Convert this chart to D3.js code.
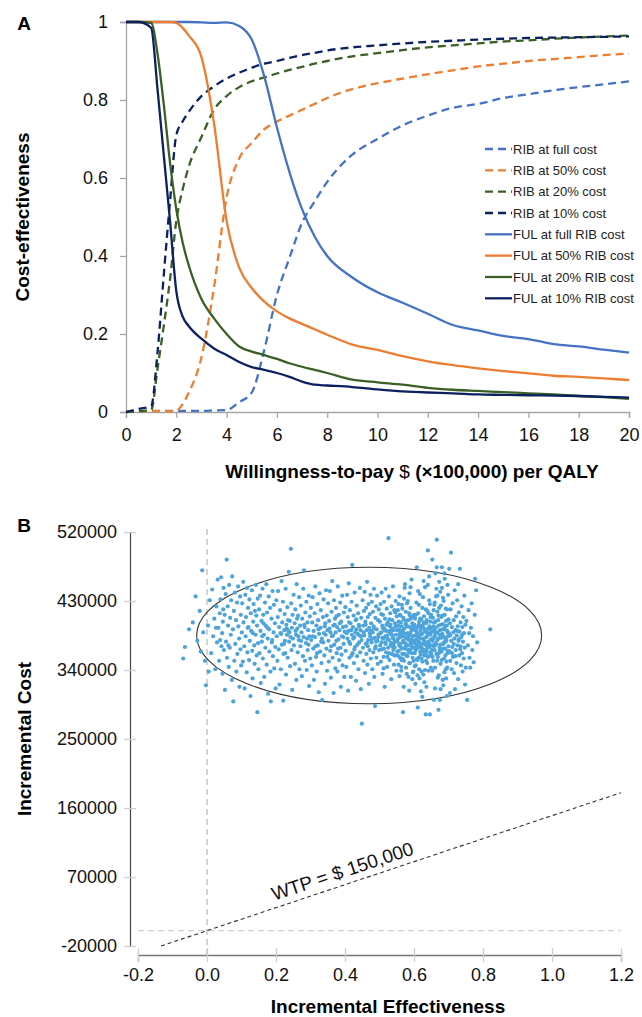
<!DOCTYPE html>
<html>
<head>
<meta charset="utf-8">
<script src="https://cdn.jsdelivr.net/npm/d3@7"></script>
<style>
  body { margin: 0; background: #fff; }
  svg { display: block; font-family: "Liberation Sans", Arial, sans-serif; }
</style>
</head>
<body>
<svg id="chart" width="642" height="1017"></svg>
<script>
// ---- Panel A: cost-effectiveness acceptability curves ----
const wtp = [0, 0.5, 1, 1.25, 1.5, 1.75, 2, 2.25, 2.5, 3, 3.5, 4, 4.5, 5, 5.5, 6, 6.5, 7, 7.5, 8,
  9, 10, 11, 12, 13, 14, 15, 16, 17, 18, 19, 20];
const ribFull = [0, .002, .003, .003, .003, .003, .003, .003, .003, .003, .004, .005, .025, .05, .16, .30,
  .395, .485, .54, .59, .66, .70, .735, .76, .78, .79, .805, .815, .825, .833, .84, .848];
const rib50 = [0, .002, .002, .002, .002, .002, .003, .02, .05, .14, .32, .55, .65, .69, .725, .745,
  .76, .775, .79, .805, .828, .843, .855, .866, .876, .886, .893, .9, .905, .91, .915, .919];
const rib20 = [0, .002, .005, .11, .22, .34, .49, .57, .63, .705, .775, .81, .833, .848, .858, .868,
  .877, .885, .893, .9, .912, .92, .928, .935, .94, .945, .95, .953, .957, .96, .963, .965];
const rib10 = [0, .008, .015, .15, .35, .54, .71, .745, .77, .81, .835, .855, .87, .883, .893, .9,
  .908, .915, .921, .927, .935, .94, .945, .949, .952, .955, .957, .959, .96, .961, .962, .963];
const fulFull = [1, 1, 1, 1, 1, 1, 1, 1, 1, .999, .998, .999, .99, .955, .86, .73,
  .615, .52, .45, .40, .345, .307, .28, .252, .223, .209, .195, .187, .174, .168, .16, .152];
const ful50 = [1, 1, 1, 1, 1, 1, .998, .985, .965, .91, .74, .49, .37, .318, .283, .258,
  .24, .226, .212, .198, .173, .159, .143, .13, .12, .112, .105, .099, .093, .09, .086, .082];
const ful20 = [1, 1, .998, .92, .79, .64, .52, .435, .375, .29, .24, .2, .168, .155, .146, .136,
  .125, .116, .108, .1, .083, .076, .07, .062, .057, .054, .051, .048, .045, .041, .038, .034];
const ful10 = [1, 1, .985, .83, .66, .49, .31, .245, .22, .188, .163, .146, .128, .115, .108, .1,
  .09, .078, .07, .068, .064, .058, .053, .05, .048, .045, .044, .043, .042, .041, .039, .037];

const seriesNames = ["RIB at full cost", "RIB at 50% cost", "RIB at 20% cost", "RIB at 10% cost",
  "FUL at full RIB cost", "FUL at 50% RIB cost", "FUL at 20% RIB cost", "FUL at 10% RIB cost"];
const seriesValues = [ribFull, rib50, rib20, rib10, fulFull, ful50, ful20, ful10];
const seriesColors = ["#4472C4", "#ED7D31", "#3B6026", "#0C2160", "#4472C4", "#ED7D31", "#3B6026", "#0C2160"];
const seriesDashed = [true, true, true, true, false, false, false, false];
const probTicks = [0, 0.2, 0.4, 0.6, 0.8, 1];
const wtpTicks = [0, 2, 4, 6, 8, 10, 12, 14, 16, 18, 20];

// ---- Panel B: incremental cost-effectiveness plane (cost in $1000s) ----
const ceDraws = [
  [-0.069,355],[-0.064,370],[-0.052,393],[-0.041,402],[-0.028,378],[-0.021,417],[-0.014,470],[-0.006,352],[-0.003,320],[-0.011,389],[-0.033,436],[-0.018,364],
  [0.003,398],[0.008,431],[0.012,362],[0.015,445],[0.018,384],[0.021,407],[0.024,341],[0.027,423],[0.029,376],[0.031,458],[0.033,395],[0.035,352],[0.037,414],[0.039,432],[0.041,461],[0.042,371],[0.044,388],[0.045,335],[0.046,403],[0.047,419],[0.048,447],[0.049,366],[0.005,338],[0.026,395],[0.038,379],
  [0.051,412],[0.052,314],[0.054,439],[0.055,377],[0.057,484],[0.058,356],[0.06,423],[0.061,398],[0.063,344],[0.064,451],[0.066,369],[0.067,408],[0.069,386],[0.07,431],[0.072,327],[0.073,462],[0.075,393],[0.076,299],[0.078,417],[0.079,352],[0.081,441],[0.082,374],[0.084,405],[0.085,338],[0.087,428],[0.088,361],[0.09,449],[0.091,397],[0.093,381],[0.094,318],[0.096,436],[0.097,367],[0.098,412],[0.099,346],[0.062,372],
  [0.101,389],[0.102,427],[0.104,351],[0.105,455],[0.106,402],[0.108,371],[0.109,316],[0.111,438],[0.112,384],[0.113,409],[0.115,337],[0.116,447],[0.117,363],[0.119,421],[0.12,396],[0.122,353],[0.123,432],[0.124,378],[0.126,306],[0.127,414],[0.128,391],[0.13,444],[0.131,365],[0.132,329],[0.134,403],[0.135,426],[0.137,372],[0.138,348],[0.139,417],[0.141,386],[0.142,451],[0.144,359],[0.145,398],[0.146,285],[0.147,433],[0.148,375],[0.149,341],[0.118,395],[0.133,388],[0.143,411],
  [0.151,419],[0.152,362],[0.154,437],[0.155,391],[0.156,323],[0.158,404],[0.159,377],[0.161,446],[0.162,355],[0.163,412],[0.165,386],[0.166,331],[0.168,428],[0.169,369],[0.17,398],[0.172,452],[0.173,347],[0.174,415],[0.176,381],[0.177,309],[0.179,436],[0.18,393],[0.181,364],[0.183,421],[0.184,338],[0.185,299],[0.187,407],[0.188,376],[0.19,443],[0.191,358],[0.193,389],[0.194,425],[0.195,342],[0.197,401],[0.198,370],[0.199,316],[0.16,384],[0.175,395],[0.189,379],[0.164,401],
  [0.201,431],[0.202,384],[0.204,352],[0.205,409],[0.206,443],[0.208,367],[0.209,396],[0.21,321],[0.212,418],[0.213,388],[0.214,341],[0.216,456],[0.217,373],[0.218,402],[0.22,429],[0.221,300],[0.222,361],[0.224,392],[0.225,413],[0.226,378],[0.228,446],[0.229,334],[0.23,399],[0.232,386],[0.233,422],[0.234,356],[0.236,391],[0.237,468],[0.238,377],[0.24,404],[0.241,345],[0.242,383],[0.243,498],[0.244,427],[0.245,366],[0.246,395],[0.247,314],[0.248,412],[0.249,381],[0.215,387],[0.223,374],[0.231,394],[0.239,389],[0.227,362],[0.235,405],
  [0.251,438],[0.252,372],[0.254,401],[0.255,348],[0.256,419],[0.258,386],[0.259,327],[0.26,452],[0.262,394],[0.263,363],[0.264,411],[0.266,379],[0.267,435],[0.268,341],[0.27,398],[0.271,371],[0.272,424],[0.274,389],[0.275,332],[0.276,407],[0.278,358],[0.279,446],[0.28,383],[0.281,470],[0.283,396],[0.284,352],[0.285,415],[0.287,375],[0.288,429],[0.289,340],[0.291,402],[0.292,366],[0.293,392],[0.295,437],[0.296,319],[0.297,384],[0.298,410],[0.299,355],[0.257,391],[0.265,384],[0.273,378],[0.282,399],[0.29,381],[0.261,407],[0.294,373],
  [0.301,421],[0.302,379],[0.304,346],[0.305,402],[0.306,435],[0.308,368],[0.309,391],[0.31,327],[0.312,414],[0.313,383],[0.314,449],[0.316,357],[0.317,398],[0.318,338],[0.32,426],[0.321,372],[0.322,405],[0.324,311],[0.325,387],[0.326,440],[0.328,364],[0.329,395],[0.33,418],[0.332,349],[0.333,381],[0.334,301],[0.336,409],[0.337,376],[0.338,432],[0.34,359],[0.341,397],[0.342,322],[0.344,386],[0.345,444],[0.346,368],[0.347,411],[0.348,339],[0.349,392],[0.307,384],[0.315,371],[0.323,393],[0.331,377],[0.339,388],[0.343,401],[0.319,362],
  [0.351,427],[0.352,378],[0.353,351],[0.354,404],[0.356,443],[0.357,365],[0.358,389],[0.359,330],[0.361,416],[0.362,384],[0.363,456],[0.364,356],[0.366,398],[0.367,310],[0.368,431],[0.369,373],[0.371,407],[0.372,342],[0.373,389],[0.374,421],[0.376,362],[0.377,396],[0.378,338],[0.379,449],[0.381,380],[0.382,412],[0.383,353],[0.384,392],[0.386,428],[0.387,369],[0.388,318],[0.389,403],[0.391,384],[0.392,437],[0.393,346],[0.394,396],[0.396,374],[0.397,415],[0.398,331],[0.399,390],[0.355,394],[0.36,371],[0.365,385],[0.37,399],[0.375,378],[0.38,368],[0.385,401],[0.39,360],[0.395,383],[0.375,410],
  [0.401,422],[0.402,365],[0.403,397],[0.404,344],[0.406,438],[0.407,381],[0.408,409],[0.409,313],[0.41,391],[0.411,453],[0.413,356],[0.414,418],[0.415,374],[0.416,401],[0.417,331],[0.419,429],[0.42,386],[0.421,477],[0.422,362],[0.423,396],[0.425,411],[0.426,349],[0.427,383],[0.428,441],[0.429,370],[0.431,405],[0.432,326],[0.433,393],[0.434,424],[0.435,358],[0.437,387],[0.438,414],[0.439,341],[0.44,399],[0.441,376],[0.443,447],[0.444,363],[0.445,392],[0.446,315],[0.447,408],[0.448,379],[0.449,270],[0.405,388],[0.412,377],[0.418,392],[0.424,381],[0.43,389],[0.436,373],[0.442,385],[0.412,402],[0.427,367],[0.441,397],[0.419,359],[0.433,406],[0.447,384],
  [0.451,431],[0.452,369],[0.453,398],[0.454,352],[0.455,417],[0.456,385],[0.457,442],[0.458,336],[0.459,403],[0.46,374],[0.461,421],[0.462,361],[0.463,392],[0.464,455],[0.465,347],[0.466,409],[0.467,379],[0.468,426],[0.469,322],[0.47,395],[0.471,366],[0.472,413],[0.473,384],[0.474,438],[0.475,355],[0.476,401],[0.477,376],[0.478,429],[0.479,341],[0.48,389],[0.481,416],[0.482,363],[0.483,397],[0.484,446],[0.485,331],[0.486,382],[0.487,293],[0.488,408],[0.489,371],[0.49,423],[0.491,356],[0.492,393],[0.493,437],[0.494,378],[0.495,348],[0.496,405],[0.497,386],[0.498,419],[0.499,366],[0.454,389],[0.46,399],[0.466,371],[0.472,388],[0.478,380],[0.484,394],[0.49,377],[0.496,383],[0.463,375],[0.475,391],[0.487,368],
  [0.501,403],[0.502,372],[0.503,426],[0.504,351],[0.505,389],[0.506,441],[0.507,367],[0.508,398],[0.509,335],[0.51,412],[0.511,381],[0.512,357],[0.513,429],[0.514,394],[0.515,318],[0.516,407],[0.517,376],[0.518,446],[0.519,363],[0.52,391],[0.521,420],[0.522,344],[0.523,385],[0.524,402],[0.525,369],[0.526,512],[0.527,436],[0.528,379],[0.529,353],[0.53,397],[0.531,414],[0.532,372],[0.533,388],[0.534,328],[0.535,423],[0.536,361],[0.537,405],[0.538,383],[0.539,449],[0.54,366],[0.541,392],[0.542,347],[0.543,418],[0.544,377],[0.545,401],[0.546,359],[0.547,430],[0.548,386],[0.549,339],[0.55,410],
  [0.502,388],[0.506,376],[0.509,395],[0.513,368],[0.517,384],[0.52,399],[0.524,380],[0.527,362],[0.531,391],[0.534,375],[0.537,394],[0.54,381],[0.544,369],[0.547,397],[0.505,413],[0.512,342],[0.518,374],[0.523,357],[0.529,406],[0.536,386],[0.541,373],[0.546,415],[0.55,378],[0.515,392],[0.532,399],[0.543,359],[0.508,382],[0.528,390],[0.539,370],[0.521,383],
  [0.551,392],[0.552,364],[0.553,418],[0.554,381],[0.555,347],[0.556,403],[0.557,372],[0.558,436],[0.559,356],[0.56,389],[0.561,411],[0.562,370],[0.563,339],[0.564,397],[0.565,425],[0.566,361],[0.567,384],[0.568,285],[0.569,408],[0.57,376],
  [0.571,352],[0.572,394],[0.573,447],[0.574,368],[0.575,382],[0.576,416],[0.577,343],[0.578,399],[0.579,373],[0.58,427],[0.581,358],[0.582,388],[0.583,405],[0.584,331],[0.585,379],[0.586,414],[0.587,366],[0.588,396],[0.589,349],[0.59,421],
  [0.591,375],[0.592,391],[0.593,458],[0.594,362],[0.595,401],[0.596,384],[0.597,337],[0.598,410],[0.599,369],[0.6,393],[0.552,377],[0.554,398],[0.556,365],[0.558,386],[0.56,374],[0.562,402],[0.564,353],[0.566,391],[0.568,378],[0.57,406],
  [0.572,361],[0.574,387],[0.576,371],[0.578,359],[0.58,397],[0.582,372],[0.584,384],[0.586,349],[0.588,411],[0.59,367],[0.592,380],[0.594,395],[0.596,356],[0.598,376],[0.6,412],[0.553,359],[0.557,393],[0.561,383],[0.565,368],[0.569,389],
  [0.573,376],[0.577,404],[0.581,381],[0.585,363],[0.589,387],[0.593,371],[0.597,398],[0.555,426],[0.563,344],[0.571,433],[0.579,335],[0.587,440],[0.595,328],[0.559,412],[0.567,355],[0.575,400],[0.583,366],[0.591,407],[0.599,352],[0.562,388],
  [0.578,382],[0.594,379],[0.57,318],[0.586,313],[0.59,448],[0.558,332],[0.574,452],[0.582,430],[0.598,338],[0.566,420],
  [0.601,385],[0.602,362],[0.603,407],[0.604,374],[0.605,346],[0.606,396],[0.607,428],[0.608,369],[0.609,388],[0.61,353],[0.611,291],[0.612,414],[0.613,377],[0.614,399],[0.615,341],[0.616,383],[0.617,439],[0.618,364],[0.619,392],[0.62,371],
  [0.621,406],[0.622,355],[0.623,387],[0.624,421],[0.625,367],[0.626,396],[0.627,334],[0.628,379],[0.629,410],[0.63,359],[0.631,390],[0.632,448],[0.633,373],[0.634,282],[0.635,401],[0.636,365],[0.637,384],[0.638,349],[0.639,417],[0.64,496],
  [0.641,377],[0.642,394],[0.643,358],[0.644,431],[0.645,370],[0.646,282],[0.647,403],[0.648,386],[0.649,343],[0.65,412],[0.601,399],[0.603,378],[0.605,366],[0.607,391],[0.609,372],[0.611,384],[0.613,356],[0.615,403],[0.617,375],[0.619,360],
  [0.621,387],[0.623,368],[0.625,398],[0.627,381],[0.629,363],[0.631,376],[0.633,393],[0.635,352],[0.637,405],[0.639,369],[0.641,388],[0.643,375],[0.645,397],[0.647,363],[0.649,380],[0.602,345],[0.606,412],[0.61,333],[0.614,425],[0.618,381],
  [0.622,338],[0.626,435],[0.63,324],[0.634,419],[0.638,389],[0.642,339],[0.646,426],[0.65,361],[0.604,392],[0.608,354],[0.612,369],[0.616,397],[0.62,387],[0.624,351],[0.628,402],[0.632,366],[0.636,383],[0.64,357],[0.644,394],[0.648,372],
  [0.604,322],[0.612,443],[0.62,312],[0.628,456],[0.636,318],[0.644,462],[0.608,474],[0.624,305],[0.64,451],[0.616,329],[0.632,340],[0.648,409],[0.61,396],[0.618,407],[0.626,374],[0.634,362],[0.642,414],[0.606,380],[0.622,395],[0.638,371],
  [0.651,390],[0.652,366],[0.653,484],[0.654,378],[0.655,408],[0.656,352],[0.657,397],[0.658,371],[0.659,425],[0.66,384],[0.661,343],[0.662,403],[0.663,375],[0.664,436],[0.665,361],[0.666,510],[0.667,389],[0.668,416],[0.669,357],[0.67,381],
  [0.671,398],[0.672,333],[0.673,421],[0.674,369],[0.675,392],[0.676,442],[0.677,348],[0.678,383],[0.679,409],[0.68,364],[0.681,474],[0.682,387],[0.683,327],[0.684,400],[0.685,374],[0.686,430],[0.687,355],[0.688,393],[0.689,412],[0.69,368],
  [0.691,381],[0.692,341],[0.693,404],[0.694,379],[0.695,306],[0.696,419],[0.697,362],[0.698,389],[0.699,438],[0.7,371],[0.652,395],[0.654,357],[0.656,381],[0.658,402],[0.66,366],[0.662,388],[0.664,373],[0.666,474],[0.668,379],[0.67,405],
  [0.672,362],[0.674,386],[0.676,373],[0.678,399],[0.68,353],[0.682,411],[0.684,368],[0.686,384],[0.688,337],[0.69,396],[0.692,377],[0.694,351],[0.696,391],[0.698,365],[0.7,406],[0.653,339],[0.657,418],[0.661,316],[0.665,446],[0.669,330],
  [0.673,455],[0.677,315],[0.681,447],[0.685,320],[0.689,459],[0.693,329],[0.697,451],[0.655,372],[0.659,391],[0.663,395],[0.667,352],[0.671,411],[0.675,366],[0.679,382],[0.683,393],[0.687,376],[0.691,359],[0.695,398],[0.699,384],[0.662,466],
  [0.675,301],[0.688,466],[0.671,288],[0.658,301],[0.684,434],[0.696,343],[0.66,428],[0.678,424],[0.692,420],[0.668,437],
  [0.701,388],[0.702,472],[0.703,364],[0.704,401],[0.705,352],[0.706,419],[0.707,493],[0.708,378],[0.709,341],[0.71,396],[0.711,370],[0.712,427],[0.713,357],[0.714,389],[0.715,405],[0.716,336],[0.717,381],[0.718,444],[0.719,315],[0.72,392],
  [0.721,366],[0.722,410],[0.723,349],[0.724,385],[0.725,431],[0.726,372],[0.727,397],[0.728,328],[0.729,378],[0.73,415],[0.731,359],[0.732,390],[0.733,472],[0.734,367],[0.735,402],[0.736,346],[0.737,383],[0.738,423],[0.739,362],[0.74,396],
  [0.741,338],[0.742,377],[0.743,409],[0.744,355],[0.745,388],[0.746,437],[0.747,369],[0.748,321],[0.749,399],[0.75,343],[0.705,385],[0.71,362],[0.715,374],[0.72,358],[0.725,391],[0.73,380],[0.735,371],[0.74,386],[0.704,310],[0.728,452],
  [0.752,404],[0.754,301],[0.756,372],[0.758,418],[0.76,388],[0.761,356],[0.763,343],[0.765,395],[0.767,427],[0.769,366],[0.771,384],[0.773,350],[0.776,412],[0.777,459],[0.78,444],[0.783,376],[0.821,393]
];
const ellipseCenter = [0.47, 385000];   // [effectiveness, cost]
const ellipseRadii = [0.5, 89000];
const wtpThreshold = 150000;
const wtpLineEff = [-0.1333, 1.2];
const effTicks = [-0.2, 0, 0.2, 0.4, 0.6, 0.8, 1.0, 1.2];
const costTicks = [-20000, 70000, 160000, 250000, 340000, 430000, 520000];

const svg = d3.select("#chart");

// ================= Panel A =================
const xA = d3.scaleLinear().domain([0, 20]).range([126, 629]);
const yA = d3.scaleLinear().domain([0, 1]).range([412, 22]);

const axA = svg.append("g").attr("transform", `translate(${xA(0)},0)`)
  .call(d3.axisLeft(yA).tickValues(probTicks).tickSizeOuter(0).tickSize(6).tickPadding(12)
    .tickFormat(d => (d === 0 || d === 1) ? String(d) : d.toFixed(1)));
const axAx = svg.append("g").attr("transform", `translate(0,${yA(0)})`)
  .call(d3.axisBottom(xA).tickValues(wtpTicks).tickSizeOuter(0).tickSize(6).tickPadding(10));
[axA, axAx].forEach(g => {
  g.select(".domain").attr("stroke", "#a6a6a6").attr("stroke-width", 1.3);
  g.selectAll(".tick line").attr("stroke", "#a6a6a6").attr("stroke-width", 1.3);
  g.selectAll(".tick text").attr("font-size", 18).attr("fill", "#111")
    .attr("font-family", "Liberation Sans, Arial, sans-serif");
});

const lineA = d3.line().x((d, i) => xA(wtp[i])).y(d => yA(d)).curve(d3.curveMonotoneX);
seriesValues.forEach((vals, i) => {
  svg.append("path").attr("d", lineA(vals)).attr("fill", "none")
    .attr("stroke", seriesColors[i]).attr("stroke-width", 2.3)
    .attr("stroke-dasharray", seriesDashed[i] ? "8,5" : null);
});

// legend
const legendX = 485, legendY0 = 149, legendStep = 21.33;
seriesNames.forEach((name, i) => {
  const ly = legendY0 + i * legendStep;
  svg.append("line").attr("x1", legendX).attr("x2", legendX + 27).attr("y1", ly).attr("y2", ly)
    .attr("stroke", seriesColors[i]).attr("stroke-width", 2.3)
    .attr("stroke-dasharray", seriesDashed[i] ? "8,5" : null);
  svg.append("text").attr("x", legendX + 28).attr("y", ly).attr("dy", "0.35em")
    .attr("font-size", 13).attr("fill", "#222").text(name);
});

svg.append("text").attr("x", 24).attr("y", 30).attr("text-anchor", "middle")
  .attr("font-size", 19).attr("font-weight", "bold").text("A");
svg.append("text").attr("transform", `translate(29,${(yA(0) + yA(1)) / 2}) rotate(-90)`)
  .attr("text-anchor", "middle").attr("font-size", 19).attr("font-weight", "bold")
  .text("Cost-effectiveness");
const xtA = svg.append("text").attr("x", 412).attr("y", 478).attr("text-anchor", "middle")
  .attr("font-size", 19).attr("font-weight", "bold");
xtA.append("tspan").text("Willingness-to-pay  ");
xtA.append("tspan").attr("font-weight", "normal").text("$");
xtA.append("tspan").text(" (\u00d7100,000) per QALY");

// ================= Panel B =================
const xB = d3.scaleLinear().domain([-0.2, 1.2]).range([138, 621]);
const yB = d3.scaleLinear().domain([-20000, 520000]).range([946, 532]);

// reference lines
svg.append("line").attr("x1", xB(0)).attr("x2", xB(0)).attr("y1", yB(520000) - 3).attr("y2", 955)
  .attr("stroke", "#bdbdbd").attr("stroke-width", 1.3).attr("stroke-dasharray", "6,4");
svg.append("line").attr("x1", xB(-0.2)).attr("x2", xB(1.2)).attr("y1", yB(0)).attr("y2", yB(0))
  .attr("stroke", "#d0d0d0").attr("stroke-width", 1.3).attr("stroke-dasharray", "6,4");

const axB = svg.append("g").attr("transform", `translate(130,0)`)
  .call(d3.axisLeft(yB).tickValues(costTicks).tickSizeOuter(0).tickSize(0).tickPadding(13)
    .tickFormat(d => String(d)));
axB.select(".domain").attr("stroke", "#444").attr("stroke-width", 1.2);
axB.selectAll(".tick line").attr("x1", -6).attr("x2", 6).attr("stroke", "#cfcfcf").attr("stroke-width", 1.3);
axB.selectAll(".tick text").attr("font-size", 18).attr("fill", "#111")
  .attr("font-family", "Liberation Sans, Arial, sans-serif");

const axBx = svg.append("g").attr("transform", `translate(0,955)`)
  .call(d3.axisBottom(xB).tickValues(effTicks).tickSizeOuter(0).tickSize(7).tickPadding(6)
    .tickFormat(d => d.toFixed(1)));
axBx.select(".domain").attr("stroke", "#777").attr("stroke-width", 1.3);
axBx.selectAll(".tick line").attr("y1", -7).attr("y2", 7).attr("stroke", "#cfcfcf").attr("stroke-width", 1.3);
axBx.selectAll(".tick text").attr("font-size", 18).attr("fill", "#111")
  .attr("font-family", "Liberation Sans, Arial, sans-serif");

// confidence ellipse
svg.append("ellipse")
  .attr("cx", xB(ellipseCenter[0])).attr("cy", yB(ellipseCenter[1]))
  .attr("rx", xB(ellipseCenter[0] + ellipseRadii[0]) - xB(ellipseCenter[0]))
  .attr("ry", yB(ellipseCenter[1] - ellipseRadii[1]) - yB(ellipseCenter[1]))
  .attr("fill", "none").attr("stroke", "#333").attr("stroke-width", 1.1);

// simulation draws
svg.append("g").selectAll("circle").data(ceDraws).enter().append("circle")
  .attr("cx", d => xB(d[0])).attr("cy", d => yB(d[1] * 1000)).attr("r", 2.1)
  .attr("fill", "#4DA4DC");

// willingness-to-pay threshold
const wtpLine = d3.line().x(d => xB(d)).y(d => yB(d * wtpThreshold));
svg.append("path").attr("d", wtpLine(wtpLineEff)).attr("fill", "none")
  .attr("stroke", "#333").attr("stroke-width", 1.1).attr("stroke-dasharray", "4,3");
const ang = Math.atan2(yB(wtpThreshold) - yB(0), xB(1) - xB(0)) * 180 / Math.PI;
svg.append("text")
  .attr("transform", `translate(${xB(0.405)},${yB(0.405 * wtpThreshold)}) rotate(${ang})`)
  .attr("text-anchor", "middle").attr("dy", -7).attr("font-size", 19).attr("fill", "#111")
  .text("WTP = $ 150,000");

svg.append("text").attr("x", 24).attr("y", 532).attr("text-anchor", "middle")
  .attr("font-size", 19).attr("font-weight", "bold").text("B");
svg.append("text").attr("transform", `translate(31,${(yB(-20000) + yB(520000)) / 2}) rotate(-90)`)
  .attr("text-anchor", "middle").attr("font-size", 19).attr("font-weight", "bold")
  .text("Incremental Cost");
svg.append("text").attr("x", 388).attr("y", 1013).attr("text-anchor", "middle")
  .attr("font-size", 19).attr("font-weight", "bold").text("Incremental Effectiveness");
</script>
</body>
</html>
